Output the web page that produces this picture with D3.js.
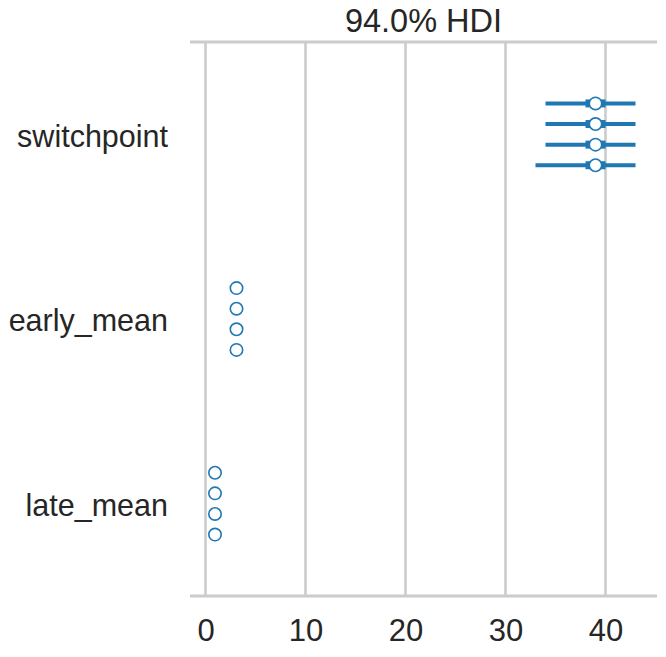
<!DOCTYPE html>
<html>
<head>
<meta charset="utf-8">
<script src="https://cdn.jsdelivr.net/npm/d3@7"></script>
<style>
  html, body { margin: 0; padding: 0; background: #fff; }
  svg { display: block; }
  text { font-family: "Liberation Sans", Arial, sans-serif; fill: #262626; }
</style>
</head>
<body>
<svg id="chart" width="666" height="657"></svg>
<script>
// ---- data ----
const variables = ["switchpoint", "early_mean", "late_mean"];
const chains = [0, 1, 2, 3];
const means = {
  switchpoint: [39.0, 39.0, 39.0, 39.0],
  early_mean: [3.1, 3.1, 3.1, 3.1],
  late_mean: [0.95, 0.95, 0.95, 0.95]
};
const hdiLow = {
  switchpoint: [34, 34, 34, 33],
  early_mean: [2.6, 2.6, 2.6, 2.6],
  late_mean: [0.7, 0.7, 0.7, 0.7]
};
const hdiHigh = {
  switchpoint: [43, 43, 43, 43],
  early_mean: [3.6, 3.6, 3.6, 3.6],
  late_mean: [1.2, 1.2, 1.2, 1.2]
};
const iqrLow = {
  switchpoint: [38, 38, 38, 38],
  early_mean: [2.9, 2.9, 2.9, 2.9],
  late_mean: [0.85, 0.85, 0.85, 0.85]
};
const iqrHigh = {
  switchpoint: [40, 40, 40, 40],
  early_mean: [3.3, 3.3, 3.3, 3.3],
  late_mean: [1.05, 1.05, 1.05, 1.05]
};
const xTicks = [0, 10, 20, 30, 40];
const title = "94.0% HDI";

// ---- layout ----
const svg = d3.select("#chart");
const plotLeft = 190, plotRight = 657, plotTop = 42, plotBottom = 596;
const color = "#1f77b4";
const grey = "#cccccc";
const labelSize = 30.5, tickSize = 31, titleSize = 32.5;

const x = d3.scaleLinear().domain([-1.55, 45.15]).range([plotLeft, plotRight]);
const y = d3.scaleBand().domain(variables).range([plotTop, plotBottom]).paddingInner(0).paddingOuter(0);
const yc = d3.scalePoint().domain(chains).range([-30.9, 30.9]);

// grid
svg.append("g").selectAll("line").data(xTicks).join("line")
  .attr("x1", d => x(d)).attr("x2", d => x(d))
  .attr("y1", plotTop).attr("y2", plotBottom)
  .attr("stroke", grey).attr("stroke-width", 2.6);

// spines top & bottom
[plotTop, plotBottom].forEach(yy => {
  svg.append("line").attr("x1", plotLeft).attr("x2", plotRight)
    .attr("y1", yy).attr("y2", yy)
    .attr("stroke", grey).attr("stroke-width", 3);
});

// x axis tick labels
const xAxis = d3.axisBottom(x).tickValues(xTicks).tickSize(0).tickPadding(23);
const gx = svg.append("g").attr("transform", `translate(0,${plotBottom})`).call(xAxis);
gx.select(".domain").remove();
gx.selectAll("text").attr("font-size", tickSize).attr("font-family", "Liberation Sans, Arial, sans-serif").attr("fill", "#262626");

// y axis labels
const yAxis = d3.axisLeft(y).tickSize(0).tickPadding(22);
const gy = svg.append("g").attr("transform", `translate(${plotLeft},0)`).call(yAxis);
gy.select(".domain").remove();
gy.selectAll("text").attr("font-size", labelSize).attr("dy", "0.4em")
  .attr("font-family", "Liberation Sans, Arial, sans-serif").attr("fill", "#262626");

// title
svg.append("text").attr("x", (plotLeft + plotRight) / 2).attr("y", 32)
  .attr("text-anchor", "middle").attr("font-size", titleSize).text(title);

// marks
const rows = [];
variables.forEach(v => chains.forEach(c => rows.push({ v, c })));
const cy = d => y(d.v) + y.bandwidth() / 2 + yc(d.c);

const marks = svg.append("g");
marks.selectAll("line.hdi").data(rows.filter(d => d.v === "switchpoint")).join("line")
  .attr("class", "hdi")
  .attr("x1", d => x(hdiLow[d.v][d.c])).attr("x2", d => x(hdiHigh[d.v][d.c]))
  .attr("y1", cy).attr("y2", cy)
  .attr("stroke", color).attr("stroke-width", 4);
marks.selectAll("line.iqr").data(rows.filter(d => d.v === "switchpoint")).join("line")
  .attr("class", "iqr")
  .attr("x1", d => x(iqrLow[d.v][d.c])).attr("x2", d => x(iqrHigh[d.v][d.c]))
  .attr("y1", cy).attr("y2", cy)
  .attr("stroke", color).attr("stroke-width", 8);
marks.selectAll("circle").data(rows).join("circle")
  .attr("cx", d => x(means[d.v][d.c])).attr("cy", cy)
  .attr("r", 6.2)
  .attr("fill", "#ffffff").attr("stroke", color).attr("stroke-width", 1.6);
</script>
</body>
</html>
